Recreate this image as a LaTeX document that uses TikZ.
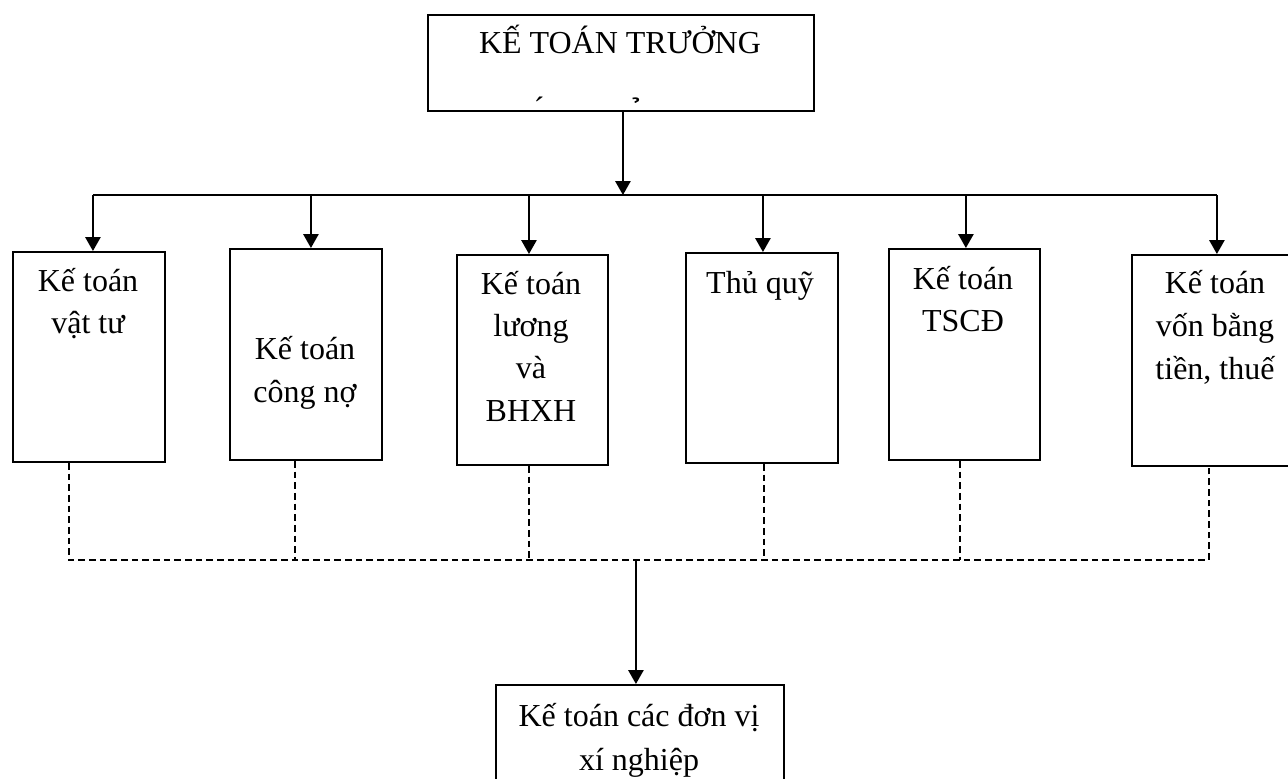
\documentclass[tikz,border=0pt]{standalone}
\usepackage{fontspec}
\setmainfont{Liberation Serif}
\usetikzlibrary{arrows.meta}
\begin{document}
\begin{tikzpicture}[x=0.75pt,y=-0.75pt,
  box/.style={draw,line width=1.4pt,anchor=north west,inner sep=0pt},
  lbl/.style={anchor=base,inner sep=0pt,font=\fontsize{24}{30}\selectfont},
  arr/.style={line width=1.4pt,-{Triangle[length=10.5pt,width=11.5pt]}},
  busline/.style={line width=1.4pt},
  dsh/.style={line width=1pt,dash pattern=on 5pt off 3pt}]
\clip (0,0) rectangle (1288,778);

% boxes
\node[box,minimum width=386*0.75pt,minimum height=96*0.75pt]  (top) at (427,14)  {};
\node[box,minimum width=152*0.75pt,minimum height=210*0.75pt] (b1)  at (12,251)  {};
\node[box,minimum width=152*0.75pt,minimum height=211*0.75pt] (b2)  at (229,248) {};
\node[box,minimum width=151*0.75pt,minimum height=210*0.75pt] (b3)  at (456,254) {};
\node[box,minimum width=152*0.75pt,minimum height=210*0.75pt] (b4)  at (685,252) {};
\node[box,minimum width=151*0.75pt,minimum height=211*0.75pt] (b5)  at (888,248) {};
\node[box,minimum width=171*0.75pt,minimum height=211*0.75pt] (b6)  at (1131,254) {};
\node[box,minimum width=288*0.75pt,minimum height=112*0.75pt] (bot) at (495,684) {};

% labels
\node[lbl] (ttop) at (620,53) {KẾ TOÁN TRƯỞNG};
\node[lbl] (acc1) at (539,125) {^^^^00a0^^^^0301};
\node[lbl] (acc2) at (636,126) {^^^^00a0^^^^0309};

\node[lbl] (t1a) at (88,291) {Kế toán};
\node[lbl] (t1b) at (88,333) {vật tư};

\node[lbl] (t2a) at (305,359) {Kế toán};
\node[lbl] (t2b) at (305,402) {công nợ};

\node[lbl] (t3a) at (531,294) {Kế toán};
\node[lbl] (t3b) at (531,336) {lương};
\node[lbl] (t3c) at (531,378) {và};
\node[lbl] (t3d) at (531,421) {BHXH};

\node[lbl] (t4a) at (760,293) {Thủ quỹ};

\node[lbl] (t5a) at (963,289) {Kế toán};
\node[lbl] (t5b) at (963,331) {TSCĐ};

\node[lbl] (t6a) at (1215,293) {Kế toán};
\node[lbl] (t6b) at (1215,336) {vốn bằng};
\node[lbl] (t6c) at (1215,379) {tiền, thuế};

\node[lbl] (t7a) at (639,726) {Kế toán các đơn vị};
\node[lbl] (t7b) at (639,770) {xí nghiệp};

% solid distribution bus from the head box
\coordinate (bus) at (0,195);
\coordinate (a0) at ([xshift=1.5pt]top.south);
\coordinate (a1) at ([xshift=3pt]b1.north);
\coordinate (a2) at ([xshift=3.75pt]b2.north);
\coordinate (a3) at ([xshift=-2.6pt]b3.north);
\coordinate (a4) at ([xshift=0.75pt]b4.north);
\coordinate (a5) at ([xshift=1.1pt]b5.north);
\coordinate (a6) at ([xshift=-0.4pt]b6.north);

\draw[arr] (a0) -- (a0 |- bus);
\draw[busline] (a1 |- bus) -- (a6 |- bus);
\foreach \n in {a1,a2,a3,a4,a5,a6}
  \draw[arr] (\n |- bus) -- (\n);

% dashed collection bus to the unit accountants
\coordinate (dbus) at (0,560);
\coordinate (d1) at ([xshift=-15pt]b1.south);
\coordinate (d2) at ([xshift=-8.25pt]b2.south);
\coordinate (d3) at ([xshift=-2.6pt]b3.south);
\coordinate (d4) at ([xshift=1.5pt]b4.south);
\coordinate (d5) at ([xshift=-3.4pt]b5.south);
\coordinate (d6) at ([xshift=-6.4pt]b6.south);

\draw[dsh] (d1) -- (d1 |- dbus) -- (d6 |- dbus) -- (d6);
\foreach \n in {d2,d3,d4,d5}
  \draw[dsh] (\n) -- (\n |- dbus);

\coordinate (e0) at ([xshift=-3pt]bot.north);
\draw[arr] (e0 |- dbus) -- (e0);
\end{tikzpicture}
\end{document}
